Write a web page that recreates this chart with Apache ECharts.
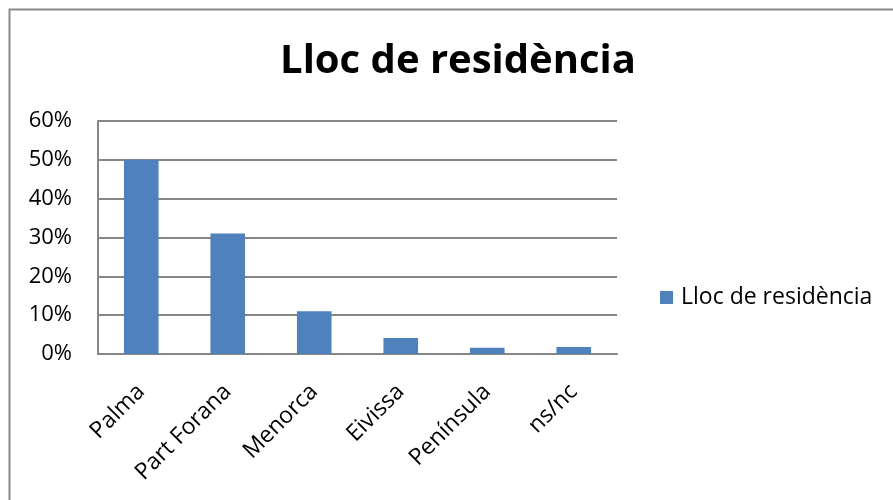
<!DOCTYPE html>
<html>
<head>
<meta charset="utf-8">
<script src="https://cdn.jsdelivr.net/npm/echarts@6/dist/echarts.min.js"></script>
<style>
html,body{margin:0;padding:0;background:#fff;}
#c{width:893px;height:500px;}
</style>
</head>
<body>
<div id="c"></div>
<script>
const titleText = 'Lloc de residència';
const seriesName = 'Lloc de residència';
const categories = ['Palma', 'Part Forana', 'Menorca', 'Eivissa', 'Península', 'ns/nc'];
const values = [50, 31, 11, 4.1, 1.6, 1.8];
const yTicks = { min: 0, max: 60, interval: 10 };

const chart = echarts.init(document.getElementById('c'), null, { renderer: 'canvas' });
const font = '"Open Sans", "Noto Sans", sans-serif';
chart.setOption({
  animation: false,
  backgroundColor: '#fff',
  graphic: [{
    type: 'rect',
    shape: { x: 9.5, y: 9.5, width: 1000, height: 1000 },
    style: { fill: 'none', stroke: '#8a8a8a', lineWidth: 2 },
    silent: true
  }],
  title: {
    text: titleText,
    left: 458,
    textAlign: 'center',
    top: 42,
    padding: 0,
    textStyle: { fontFamily: font, fontWeight: 'bold', fontSize: 40, color: '#000' }
  },
  legend: {
    data: [seriesName],
    left: 660,
    top: 286,
    padding: 0,
    itemWidth: 13,
    itemHeight: 13,
    itemGap: 5,
    icon: 'rect',
    textStyle: { fontFamily: font, fontSize: 23, color: '#000', padding: [0, 0, 0, 3] }
  },
  grid: { left: 98, right: 276, top: 121, bottom: 146, containLabel: false },
  xAxis: {
    type: 'category',
    data: categories,
    axisLine: { show: true, lineStyle: { color: '#868686', width: 2 } },
    axisTick: { show: false },
    axisLabel: { rotate: 45, fontFamily: font, fontSize: 23, color: '#000', margin: 34, interval: 0 }
  },
  yAxis: {
    type: 'value',
    min: yTicks.min,
    max: yTicks.max,
    interval: yTicks.interval,
    axisLine: { show: true, lineStyle: { color: '#868686', width: 2 } },
    axisTick: { show: false },
    splitLine: { show: true, lineStyle: { color: '#868686', width: 2 } },
    axisLabel: { formatter: '{value}%', fontFamily: font, fontSize: 22, color: '#000', margin: 26 }
  },
  series: [{
    name: seriesName,
    type: 'bar',
    data: values,
    barCategoryGap: '60%',
    itemStyle: { color: '#4F81BD' }
  }]
});
</script>
</body>
</html>
